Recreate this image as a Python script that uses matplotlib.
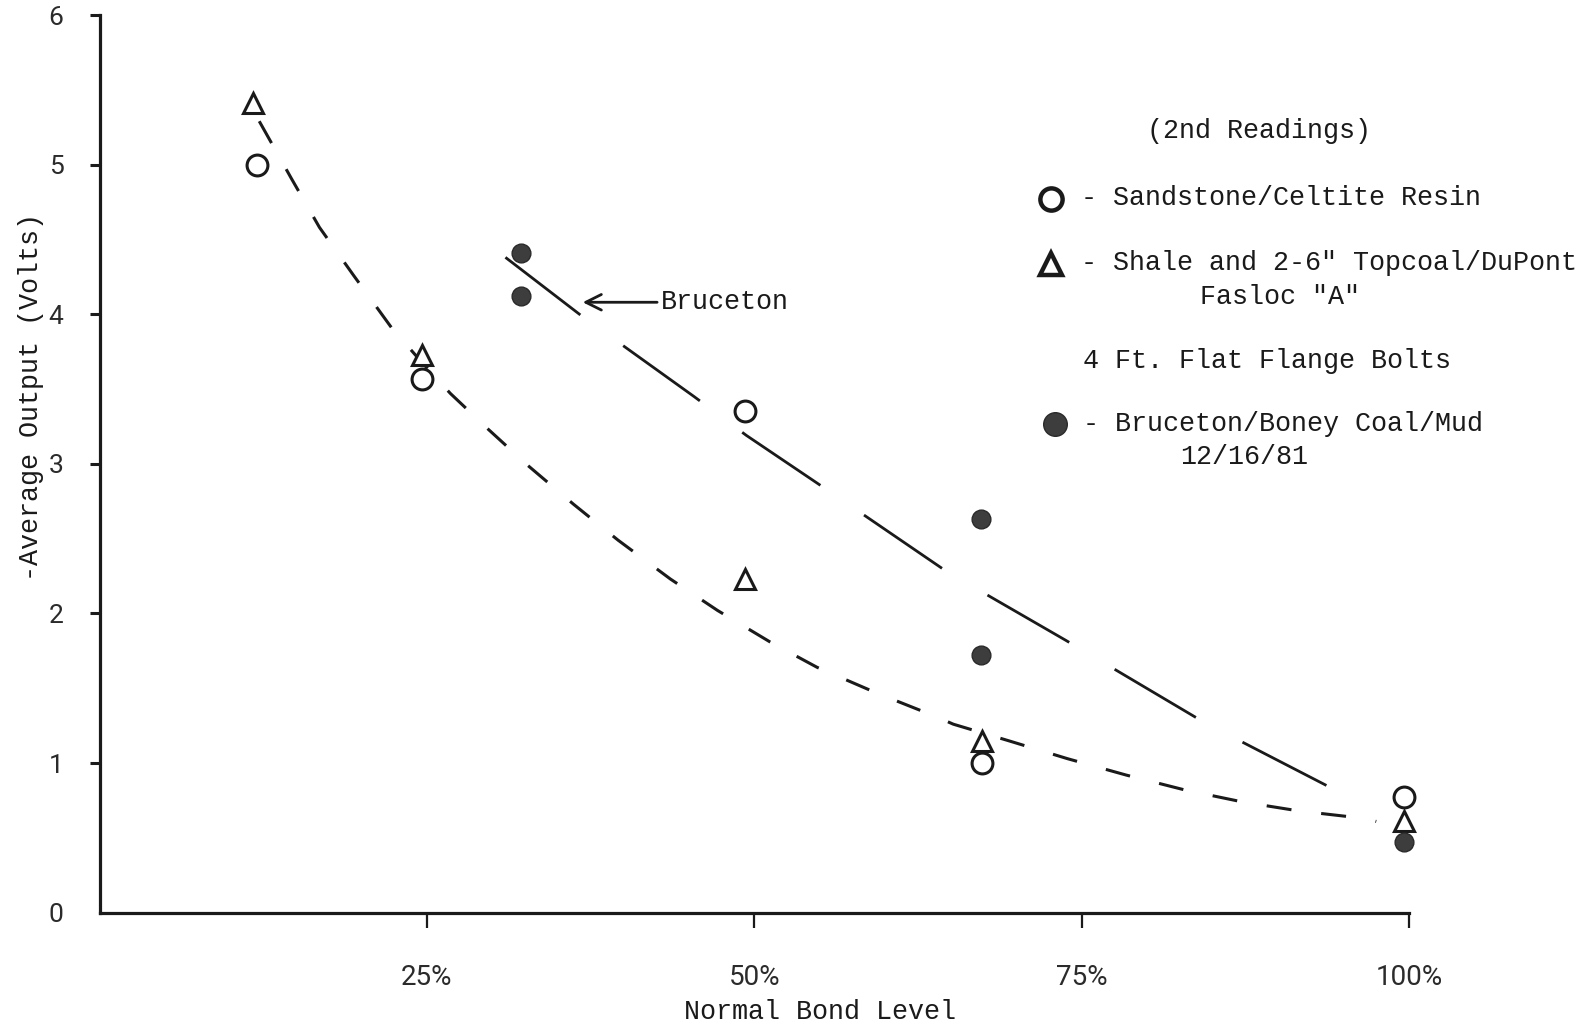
import matplotlib
matplotlib.use("Agg")
import matplotlib.pyplot as plt
from matplotlib.lines import Line2D

# ---- data -------------------------------------------------------------
# Normal bond level (%) and average output (volts)
sand_x = [12.0, 24.6, 49.3, 67.4, 99.6]
sand_y = [5.00, 3.57, 3.35, 1.00, 0.77]

shale_x = [11.7, 24.6, 49.3, 67.4, 99.6]
shale_y = [5.41, 3.73, 2.23, 1.15, 0.61]

bruc_x = [32.2, 32.2, 67.3, 67.3, 99.6]
bruc_y = [4.41, 4.12, 2.63, 1.72, 0.47]

# hand-drawn fit through sandstone / shale readings
fit_x = [12.2, 14.7, 16.8, 19.4, 22.3, 24.6, 26.8, 29.7, 32.7, 36.2, 39.6,
         43.6, 47.2, 51.2, 54.8, 59.3, 63.9, 65.2, 69.4, 73.9, 78.4, 82.9,
         87.3, 91.6, 96.6, 97.5]
fit_y = [5.29, 4.90, 4.58, 4.26, 3.91, 3.68, 3.47, 3.23, 2.99, 2.73, 2.49,
         2.23, 2.02, 1.81, 1.64, 1.47, 1.31, 1.26, 1.15, 1.03, 0.92, 0.82,
         0.74, 0.68, 0.63, 0.61]

# hand-drawn fit through Bruceton readings
bfit_x = [31.0, 36.8, 45.4, 49.4, 55.5, 64.7, 73.8, 84.4, 95.7]
bfit_y = [4.38, 3.99, 3.45, 3.19, 2.83, 2.28, 1.82, 1.27, 0.76]

x_ticks = [25, 50, 75, 100]
x_tick_labels = ["25%", "50%", "75%", "100%"]
y_ticks = [0, 1, 2, 3, 4, 5, 6]

# ---- figure -----------------------------------------------------------
W, H = 1595, 1028
fig = plt.figure(figsize=(W / 100, H / 100), dpi=100)
fig.patch.set_facecolor("white")

ax = fig.add_axes([99.5 / W, 1 - 912.7 / H, (1409 - 99.5) / W, (912.7 - 15) / H])
ax.set_xlim(0, 100)
ax.set_ylim(0, 6)
ax.set_facecolor("none")

ink = "#1a1a1a"
label_ink = "#2b2b2b"
mono = "Liberation Mono"
tick_font = "Roboto"

for s in ("top", "right"):
    ax.spines[s].set_visible(False)
for s in ("left", "bottom"):
    ax.spines[s].set_linewidth(2.3)
    ax.spines[s].set_color(ink)

ax.set_xticks(x_ticks)
ax.set_xticklabels(x_tick_labels, fontfamily=tick_font, fontsize=20,
                   fontweight="normal", color=label_ink)
ax.set_yticks(y_ticks)
ax.set_yticklabels([str(v) for v in y_ticks], fontfamily=tick_font, fontsize=19,
                   fontweight="normal", color=label_ink)
ax.tick_params(axis="x", direction="out", length=11, width=1.6, color=ink, pad=26)
ax.tick_params(axis="y", direction="out", length=7, width=2.2, color=ink, pad=19)
ax.yaxis.get_major_ticks()[0].tick1line.set_visible(False)

# fitted curves
ax.plot(fit_x, fit_y, color=ink, lw=2.2, dashes=(8.2, 9.8), zorder=2)
ax.plot(bfit_x, bfit_y, color=ink, lw=2.0, dashes=(34, 19), zorder=2)

# readings
ax.plot(sand_x, sand_y, ls="none", marker="o", ms=15, mfc="white", mec=ink,
        mew=2.2, zorder=3, clip_on=False)
ax.plot(shale_x, shale_y, ls="none", marker="^", ms=15, mfc="white", mec=ink,
        mew=2.2, zorder=3, clip_on=False)
ax.plot(bruc_x, bruc_y, ls="none", marker="o", ms=13.5, mfc="#3d3d3d",
        mec="#2a2a2a", mew=1.0, zorder=3, clip_on=False)

# annotation
ax.annotate("Bruceton", xy=(36.9, 4.08), xytext=(42.9, 4.08),
            fontfamily=mono, fontsize=19.3, color=ink, ha="left", va="center",
            arrowprops=dict(arrowstyle="->", lw=2.0, color=ink,
                            mutation_scale=28, shrinkA=1, shrinkB=0))

ax.set_xlabel("Normal Bond Level", fontfamily=mono, fontsize=19.3, color=ink,
              va="center", ha="center")
ax.xaxis.set_label_coords((820 - 99.5) / (1409 - 99.5), (912.7 - 1012) / (912.7 - 15))
ax.set_ylabel("-Average Output (Volts)", fontfamily=mono, fontsize=19.3, color=ink,
              va="center", ha="center")
ax.yaxis.set_label_coords((31 - 99.5) / (1409 - 99.5), (912.7 - 397) / (912.7 - 15))


# ---- key --------------------------------------------------------------
def fx(px):
    return px / W


def fy(py):
    return 1 - py / H


def key_text(px, py, s):
    fig.text(fx(px), fy(py), s, fontfamily=mono, fontsize=19.3, color=ink,
             ha="left", va="center")


def key_marker(px, py, **kw):
    fig.add_artist(Line2D([fx(px)], [fy(py)], transform=fig.transFigure,
                          ls="none", **kw))


key_text(1147, 131, "(2nd Readings)")
key_marker(1051, 199, marker="o", ms=16, mfc="white", mec=ink, mew=3.2)
key_text(1081, 198, "- Sandstone/Celtite Resin")
key_marker(1051, 264, marker="^", ms=16, mfc="white", mec=ink, mew=3.2)
key_text(1081, 263, '- Shale and 2-6" Topcoal/DuPont')
key_text(1200, 297, 'Fasloc "A"')
key_text(1083, 361, "4 Ft. Flat Flange Bolts")
key_marker(1055, 424, marker="o", ms=17, mfc="#3d3d3d", mec="#2a2a2a", mew=1.0)
key_text(1083, 424, "- Bruceton/Boney Coal/Mud")
key_text(1180, 457, "12/16/81")

fig.savefig("out.png", dpi=100, facecolor="white")
